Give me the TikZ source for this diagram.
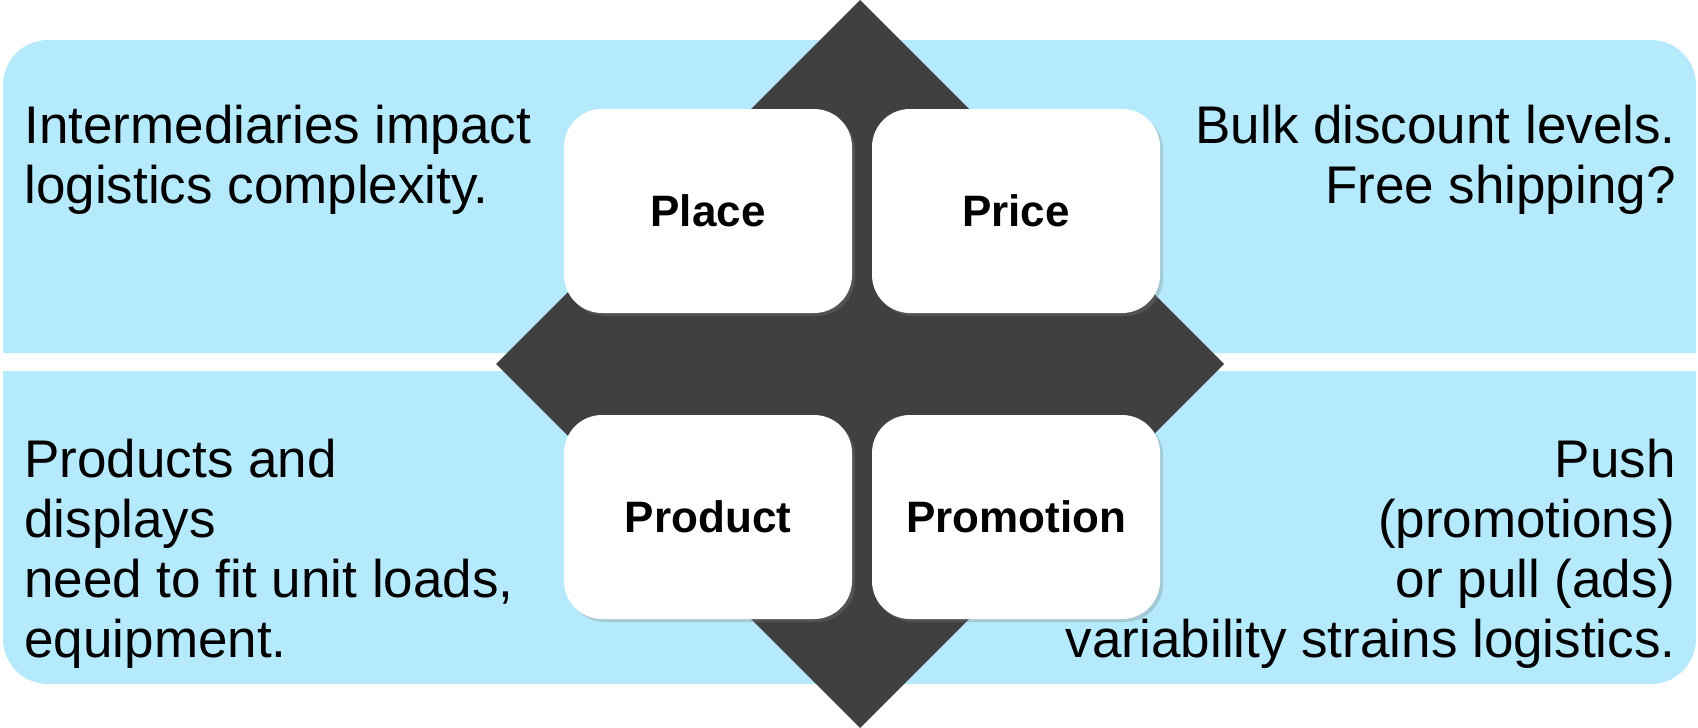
\documentclass[tikz,border=0pt]{standalone}
\usepackage{fontspec}
\setmainfont{Liberation Sans}
\usepackage{xcolor}
\usepackage{tikz}
\usetikzlibrary{shadows}
\definecolor{bandblue}{RGB}{180,234,252}
\definecolor{darkgrey}{RGB}{64,64,64}

\begin{document}
\begin{tikzpicture}[x = 0.5pt, y = -0.5pt,
    band/.style = {fill = bandblue},
    box/.style = {fill = white, rounded corners = 19pt, minimum width = 144pt, minimum height = 102pt, inner sep = 0pt,
      font = \fontsize{22}{26}\selectfont\bfseries,
      drop shadow = {opacity = 0.3, shadow xshift = 1.5pt, shadow yshift = -1.5pt}},
    note/.style = {inner sep = 0pt, font = \fontsize{26.5}{30}\selectfont}]
  \useasboundingbox (0, 0) rectangle (1698, 728);
  \fill [band] (3, 353) -- (3, 85) arc [start angle = 180, end angle = 90, radius = 22.5pt]
    -- (1651, 40) arc [start angle = 90, end angle = 0, radius = 22.5pt] -- (1696, 353) -- cycle;
  \fill [band] (3, 371) -- (3, 639) arc [start angle = 180, end angle = 270, radius = 22.5pt]
    -- (1651, 684) arc [start angle = 270, end angle = 360, radius = 22.5pt] -- (1696, 371) -- cycle;
  \fill [darkgrey] (860, 0) -- (1224, 364) -- (860, 728) -- (496, 364) -- cycle;
  \node [box] (LT) at (708, 211) {Place};
  \node [box] (RT) at (1016, 211) {Price};
  \node [box] (LB) at (708, 517) {Product};
  \node [box] (RB) at (1016, 517) {Promotion};
  \node [note, anchor = north west, align = left] (LTnote) at (24, 105) {Intermediaries impact\\logistics complexity.};
  \node [note, anchor = north east, align = right] (RTnote) at (1676, 105) {Bulk discount levels.\\Free shipping?};
  \node [note, anchor = north west, align = left] (LBnote) at (24, 439) {Products and\\displays\\need to fit unit loads,\\equipment.};
  \node [note, anchor = north east, align = right] (RBnote) at (1676, 439) {Push\\(promotions)\\or pull (ads)\\variability strains logistics.};
\end{tikzpicture}
\end{document}
